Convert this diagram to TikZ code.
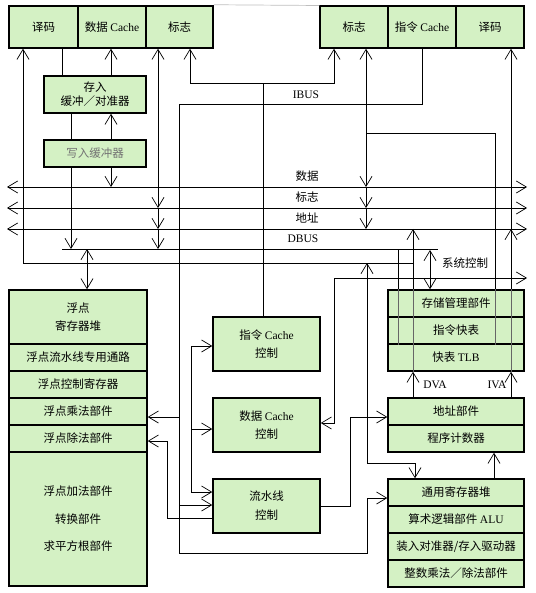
\documentclass[tikz,border=0pt]{standalone}
\usepackage{fontspec}
\setmainfont{Noto Sans CJK SC}
\newfontfamily\eng{Liberation Serif}
\usetikzlibrary{arrows.meta}
\definecolor{boxgreen}{RGB}{212,241,196}

\begin{document}
\begin{tikzpicture}[x=1pt,y=-1pt,
    font=\fontsize{11.5}{14}\selectfont,
    line width=0.7pt,
    ar/.style={-{Straight Barb[length=10pt,width=12pt]}},
    dar/.style={{Straight Barb[length=10pt,width=12pt]}-{Straight Barb[length=10pt,width=12pt]}},
    thru/.style={black!60}]
\useasboundingbox (0,0) rectangle (535,593);

            \begin{scope}[every node/.style={draw,line width=1.5pt,fill=boxgreen,inner sep=0pt,align=center,minimum height=27pt}]
                % top left
                \node[minimum width=69pt,minimum height=42pt] (YM1) at (43.5,27) {译码};
                \node[minimum width=68pt,minimum height=42pt] (DC1) at (112,27) {数据 {\eng Cache}};
                \node[minimum width=67pt,minimum height=42pt] (BZ1) at (179.5,27) {标志};
                % top right
                \node[minimum width=68pt,minimum height=42pt] (BZ2) at (354,27) {标志};
                \node[minimum width=68pt,minimum height=42pt] (IC) at (422,27) {指令 {\eng Cache}};
                \node[minimum width=68pt,minimum height=42pt] (YM2) at (490,27) {译码};
                % store buffers
                \node[minimum width=102pt,minimum height=37pt] (CR) at (95,94.5) {存入\\缓冲／对准器};
                \node[minimum width=102pt,text=black!55] (WB) at (95,153.5) {写入缓冲器};
                % floating point
                \node[minimum width=138pt,minimum height=54pt,font=\fontsize{11.5}{18}\selectfont] (FP1) at (78,317) {浮点\\寄存器堆};
                \node[minimum width=138pt] (FP2) at (78,357.5) {浮点流水线专用通路};
                \node[minimum width=138pt] (FP3) at (78,384.5) {浮点控制寄存器};
                \node[minimum width=138pt] (FP4) at (78,411.5) {浮点乘法部件};
                \node[minimum width=138pt] (FP5) at (78,438.5) {浮点除法部件};
                \node[minimum width=138pt,minimum height=134pt,font=\fontsize{11.5}{27.5}\selectfont] (FP6) at (78,519) {浮点加法部件\\转换部件\\求平方根部件};
                % control
                \node[minimum width=107pt,minimum height=54pt,font=\fontsize{11.5}{18}\selectfont] (ICC) at (266.5,344) {指令 {\eng Cache}\\控制};
                \node[minimum width=107pt,minimum height=54pt,font=\fontsize{11.5}{18}\selectfont] (DCC) at (266.5,425) {数据 {\eng Cache}\\控制};
                \node[minimum width=107pt,minimum height=54pt,font=\fontsize{11.5}{19}\selectfont] (PLC) at (266.5,506) {流水线\\控制};
                % memory management
                \node[minimum width=136pt] (MM1) at (456,303.5) {存储管理部件};
                \node[minimum width=136pt] (MM2) at (456,330.5) {指令快表};
                \node[minimum width=136pt] (MM3) at (456,357.5) {快表 {\eng TLB}};
                \node[minimum width=136pt] (AU1) at (456,411.5) {地址部件};
                \node[minimum width=136pt] (AU2) at (456,438.5) {程序计数器};
                % integer unit
                \node[minimum width=136pt] (GR1) at (456,492.5) {通用寄存器堆};
                \node[minimum width=136pt] (GR2) at (456,519.5) {算术逻辑部件 {\eng ALU}};
                \node[minimum width=136pt] (GR3) at (456,546.5) {装入对准器/存入驱动器};
                \node[minimum width=136pt] (GR4) at (456,573.5) {整数乘法／除法部件};
            \end{scope}

            \draw[black!25] (BZ1.north east) ++(0,-0.5) -- (BZ2.north west |- 0,5.5);

            % buses
            \draw[dar] (7,187) -- (527,187);
            \draw[dar] (7,208) -- (527,208);
            \draw[dar] (7,229) -- (527,229);
            \draw (62,249) -- (438,249);
            \begin{scope}[every node/.style={inner sep=0pt}]
                \node (LDATA) at (307,176) {数据};
                \node (LFLAG) at (307,197) {标志};
                \node (LADDR) at (307,218) {地址};
                \node (LDBUS) at (303,239) {\eng DBUS};
                \node (LIBUS) at (306,95) {\eng IBUS};
                \node (LSYS) at (465,263) {系统控制};
                \node (LDVA) at (435,385) {\eng DVA};
                \node (LIVA) at (497,385) {\eng IVA};
            \end{scope}

            % store side
            \draw (62,0 |- YM1.south) -- (62,0 |- CR.north);
            \draw (71,0 |- CR.south) -- (71,0 |- WB.north);
            \draw[ar] (71,0 |- WB.south) -- (71,249);
            \draw[ar] (111,0 |- CR.north) -- (111,0 |- DC1.south);
            \draw[ar] (111,0 |- WB.north) -- (111,0 |- CR.south);
            \draw[ar] (111,0 |- WB.south) -- (111,187);
            \draw[dar] (87,249) -- (87,0 |- FP1.north);
            \draw[ar] (413,263) -- (23,263) -- (23,0 |- YM1.south);

            % flag lines
            \draw[ar] (158,195) -- (158,0 |- BZ1.south);
            \draw[ar] (158,190) -- (158,208);
            \draw[ar] (158,208) -- (158,229);
            \draw[ar] (158,229) -- (158,249);
            \draw[ar] (366,150) -- (366,0 |- BZ2.south);
            \draw[ar] (366,150) -- (366,187);
            \draw[ar] (366,187) -- (366,208);
            \draw[ar] (366,208) -- (366,229);
            \draw (263,0 |- ICC.north) -- (263,83);
            \draw[ar] (190,83) -- (334,83) -- (334,0 |- BZ2.south);
            \draw[ar] (190,83) -- (190,0 |- BZ1.south);

            % IBUS
            \draw[ar] (422,0 |- IC.south) -- (422,104) -- (179,104) -- (179,553) -- (367,553) -- (367,498) -- (GR1.west |- 0,498);
            \draw[ar] (179,417) -- (FP4.east |- 0,417);
            \draw[ar] (179,505) -- (PLC.west |- 0,505);
            \draw[ar] (191,346) -- (191,492) -- (PLC.west |- 0,492);
            \draw[ar] (191,346) -- (ICC.west |- 0,346);
            \draw[ar] (191,429) -- (DCC.west |- 0,429);
            \draw[ar] (PLC.west |- 0,518) -- (167,518) -- (167,441) -- (FP5.east |- 0,441);

            % right side
            \draw[ar] (413,0 |- MM1.north) -- (413,229);
            \draw[thru] (413,0 |- MM1.north) -- (413,0 |- MM3.south);
            \draw[ar] (511,0 |- MM1.north) -- (511,229);
            \draw[ar] (511,229) -- (511,0 |- YM2.south);
            \draw[thru] (511,0 |- MM1.north) -- (511,0 |- MM3.south);
            \draw (398,249) -- (398,0 |- MM1.north);
            \draw[thru] (398,0 |- MM1.north) -- (398,0 |- MM2.south);
            \draw (366,133) -- (495,133) -- (495,0 |- MM1.north);
            \draw[thru] (495,0 |- MM1.north) -- (495,0 |- MM2.south);
            \draw[dar] (430,250) -- (430,0 |- MM1.north);
            \draw[ar] (413,0 |- AU1.north) -- (413,0 |- MM3.south);
            \draw[ar] (511,0 |- AU1.north) -- (511,0 |- MM3.south);
            \draw[dar] (527,278) -- (334,278) -- (334,423) -- (DCC.east |- 0,423);
            \draw[dar] (367,263) -- (367,463) -- (415,463) -- (415,0 |- GR1.north);
            \draw[ar] (PLC.east |- 0,506) -- (350,506) -- (350,417) -- (AU1.west |- 0,417);
            \draw[ar] (494,0 |- GR1.north) -- (494,0 |- AU2.south);
            \end{tikzpicture}
\end{document}
